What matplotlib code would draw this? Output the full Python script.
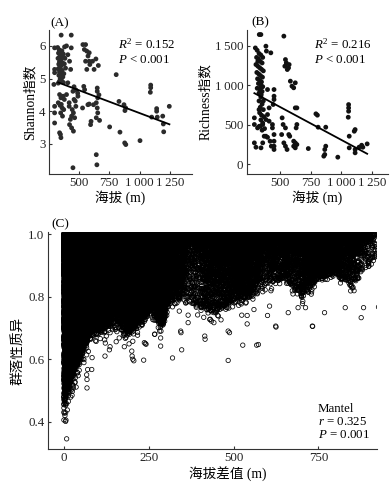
import numpy as np
import matplotlib
matplotlib.use('Agg')
import matplotlib.pyplot as plt

plt.rcParams['font.family'] = ['Liberation Serif', 'Noto Sans CJK SC']
plt.rcParams['mathtext.fontset'] = 'custom'
plt.rcParams['mathtext.rm'] = 'Liberation Serif'
plt.rcParams['mathtext.it'] = 'Liberation Serif:italic'
plt.rcParams['font.size'] = 9.3

# ---------------- Panel A: elevation vs Shannon ----------------
elev_a = [325, 338, 350, 332, 345, 360, 328, 352, 340, 366, 334, 356, 344, 330, 362, 340, 350, 335,
          368, 346, 356, 340, 372, 330, 380, 376, 385, 390, 360, 372,
          354, 437, 300, 382, 398, 437, 409, 423, 432, 300, 300, 294, 409, 341, 352, 370, 380, 398,
          451, 460, 492, 330, 355, 420, 470, 300, 300, 345, 362, 375, 420, 445, 440, 455, 430, 300,
          350, 365, 341, 348, 352, 423, 440, 455, 451, 533, 555, 545, 565, 575, 585, 555, 585, 612,
          625, 565, 590, 651, 651, 655, 643, 651, 655, 643, 547, 540, 574, 585, 530, 596, 600, 643,
          648, 460, 475, 490, 465, 475, 753, 807, 830, 838, 871, 879, 885, 877, 886, 1003, 1091,
          1091, 1088, 1099, 1140, 1140, 1145, 1190, 1195, 1198, 1244, 665, 670, 660, 640, 620]
shannon = [5.95, 5.88, 5.82, 5.78, 5.72, 5.68, 5.62, 5.58, 5.52, 5.48, 5.44, 5.40, 5.35, 5.30, 5.25,
           5.20, 5.15, 5.10, 5.05, 5.00, 4.95, 4.92, 4.88, 4.86, 5.45, 5.15, 5.62, 5.32, 5.85, 5.75,
           6.33, 6.33, 5.94, 5.97, 6.00, 5.94, 5.73, 5.53, 5.28, 5.28, 5.18, 4.82, 4.87, 4.51, 4.41,
           4.46, 4.36, 4.51, 4.61, 4.36, 4.46, 4.26, 4.21, 4.26, 4.31, 4.15, 3.95, 4.18, 4.10, 4.05,
           4.15, 4.05, 3.85, 3.95, 3.75, 3.64, 3.95, 3.85, 3.34, 3.29, 3.19, 3.59, 3.49, 3.39, 2.27,
           6.04, 6.04, 5.89, 5.84, 5.69, 5.79, 5.53, 5.53, 5.53, 5.28, 5.28, 5.43, 4.71, 4.61, 4.41,
           4.26, 4.10, 3.95, 3.80, 4.66, 4.76, 4.20, 4.22, 4.10, 3.59, 3.69, 2.67, 2.36, 4.75, 4.65,
           4.55, 3.80, 4.15, 3.52, 5.12, 4.30, 3.36, 4.20, 4.02, 4.10, 3.03, 2.98, 3.10, 4.80, 4.72,
           4.58, 3.82, 4.08, 4.00, 3.82, 3.85, 3.61, 3.37, 4.15, 4.50, 3.72, 5.40, 5.60, 4.20]
fit_a_x = [330, 1245]
fit_a_y = [4.88, 3.60]

# ---------------- Panel B: elevation vs Richness ----------------
elev_b = [300, 315, 330, 345, 310, 325, 340, 355, 305, 320, 335, 350, 365, 312, 328, 342, 358, 318,
          335, 350, 325, 345, 360, 315, 338, 355, 330, 348, 320, 360,
          345, 330, 355, 340, 365, 335, 350, 370, 345, 360, 340, 375, 355, 330, 365,
          332, 345, 386, 390, 426, 532, 545, 552, 540, 560, 570, 575, 585, 598, 612, 625, 638, 625,
          340, 399, 452, 452, 452, 445, 412, 399, 386, 412, 292, 292, 318, 332, 360, 439, 439, 452,
          452, 452, 452, 430, 420, 292, 305, 346, 360, 386, 399, 372, 518, 526, 545, 514, 572, 532,
          545, 558, 580, 612, 625, 638, 612, 625, 638, 632, 731, 793, 805, 811, 873, 873, 865, 857,
          865, 971, 1059, 1059, 1059, 1056, 1064, 1112, 1105, 1064, 1112, 1112, 1144, 1165, 1175, 1210]
richness = [1470, 1440, 1400, 1380, 1350, 1330, 1300, 1280, 1260, 1240, 1220, 1200, 1180, 1160, 1140,
            1120, 1100, 1080, 1060, 1040, 1020, 1000, 980, 960, 940, 920, 900, 880, 1300, 1350,
            850, 800, 760, 720, 690, 650, 620, 600, 560, 520, 480, 450, 430, 690, 800,
            1639, 1639, 1492, 1430, 1408, 1619, 1323, 1281, 1239, 1197, 1218, 1260, 1050, 987, 966,
            1029, 712, 712, 965, 944, 944, 860, 818, 755, 712, 628, 565, 544, 586, 502, 459, 480, 502,
            502, 459, 375, 291, 228, 186, 228, 291, 270, 215, 207, 270, 354, 340, 354, 586, 502, 459,
            375, 375, 270, 228, 186, 354, 291, 270, 249, 228, 207, 502, 459, 198, 637, 620, 468, 468,
            228, 186, 102, 123, 89, 754, 712, 670, 594, 354, 438, 417, 207, 144, 186, 215, 240, 215, 257]
fit_b_x = [292, 1210]
fit_b_y = [898, 132]

# ---------------- Panel C: pairwise elevation difference vs dissimilarity ----------------
# lower edge of the dense cloud
env_x = [0, 10, 25, 45, 60, 80, 120, 160, 190, 220, 260, 290, 310, 350, 400, 450, 500, 550,
         600, 650, 700, 750, 800, 850, 880, 930]
env_y = [0.46, 0.50, 0.55, 0.60, 0.64, 0.69, 0.70, 0.72, 0.68, 0.72, 0.76, 0.70, 0.79, 0.79,
         0.76, 0.75, 0.79, 0.80, 0.84, 0.86, 0.80, 0.86, 0.87, 0.83, 0.88, 0.93]
# sparse points below the cloud
out_x = [8, 13, 23, 31, 50, 68, 68, 67, 70, 82, 83, 95, 107, 121, 134, 136, 154, 163, 178, 193,
         200, 201, 203, 206, 235, 237, 240, 242, 267, 320, 347, 285, 268, 285, 344, 345, 340, 366,
         366, 415, 416, 484, 484, 488, 527, 568, 524, 540, 540, 560, 477, 430, 442, 282, 573, 624,
         732, 876, 927, 768, 829, 883, 690, 712, 661, 600, 606, 412, 435, 625, 733]
out_y = [0.345, 0.483, 0.549, 0.578, 0.60, 0.508, 0.535, 0.55, 0.567, 0.567, 0.605, 0.657, 0.666,
         0.61, 0.63, 0.64, 0.656, 0.668, 0.64, 0.68, 0.626, 0.61, 0.60, 0.595, 0.597, 0.653, 0.65,
         0.648, 0.68, 0.604, 0.63, 0.642, 0.68, 0.668, 0.69, 0.685, 0.754, 0.741, 0.717, 0.674, 0.664,
         0.596, 0.69, 0.685, 0.645, 0.645, 0.741, 0.713, 0.74, 0.759, 0.76, 0.727, 0.717, 0.69, 0.647,
         0.706, 0.706, 0.733, 0.767, 0.749, 0.765, 0.765, 0.765, 0.765, 0.749, 0.74, 0.77, 0.734,
         0.722, 0.703, 0.705]

TS = '\u2009'
a_xticks = [500, 750, 1000, 1250]
a_xticklabels = ['500', '750', '1' + TS + '000', '1' + TS + '250']
a_yticks = [3, 4, 5, 6]
b_xticks = [500, 750, 1000, 1250]
b_xticklabels = ['500', '750', '1' + TS + '000', '1' + TS + '250']
b_yticks = [0, 500, 1000, 1500]
b_yticklabels = ['0', '500', '1' + TS + '000', '1' + TS + '500']
c_xticks = [0, 250, 500, 750]
c_yticks = [0.4, 0.6, 0.8, 1.0]
c_yticklabels = ['0.4', '0.6', '0.8', '1.0']

fig = plt.figure(figsize=(3.9, 4.9), dpi=100)
axA = fig.add_axes([0.126, 0.645, 0.366, 0.294])
axB = fig.add_axes([0.633, 0.645, 0.362, 0.294])
axC = fig.add_axes([0.123, 0.084, 0.844, 0.443])

for ax in (axA, axB, axC):
    for s in ('top', 'right'):
        ax.spines[s].set_visible(False)
    for s in ('left', 'bottom'):
        ax.spines[s].set_linewidth(0.8)
        ax.spines[s].set_color('#333333')
    ax.tick_params(direction='in', length=2.5, width=0.8, color='#333333', labelsize=9.3,
                   labelcolor='#222222', pad=2.5)

# A
axA.scatter(elev_a, shannon, s=12, color='#2b2b2b', edgecolors='none', zorder=2)
axA.plot(fit_a_x, fit_a_y, color='black', lw=1.3, zorder=3)
axA.set_xlim(255, 1430)
axA.set_ylim(2.08, 6.49)
axA.set_xticks(a_xticks)
axA.set_xticklabels(a_xticklabels)
axA.set_yticks(a_yticks)
axA.set_xlabel('海拔 (m)', labelpad=1, fontsize=9.8)
axA.set_ylabel('Shannon指数', labelpad=2, fontsize=9.8)
axA.text(0.48, 0.899, r'$R^2$ = 0.152', transform=axA.transAxes, va='center', ha='left')
axA.text(0.48, 0.79, r'$P$ < 0.001', transform=axA.transAxes, va='center', ha='left')

# B
axB.scatter(elev_b, richness, s=12, color='#111111', edgecolors='none', zorder=2)
axB.plot(fit_b_x, fit_b_y, color='black', lw=1.3, zorder=3)
axB.set_xlim(231, 1380)
axB.set_ylim(-123, 1698)
axB.set_xticks(b_xticks)
axB.set_xticklabels(b_xticklabels)
axB.set_yticks(b_yticks)
axB.set_yticklabels(b_yticklabels)
axB.set_xlabel('海拔 (m)', labelpad=1, fontsize=9.8)
axB.set_ylabel('Richness指数', labelpad=2, fontsize=9.8)
axB.text(0.475, 0.899, r'$R^2$ = 0.216', transform=axB.transAxes, va='center', ha='left')
axB.text(0.475, 0.79, r'$P$ < 0.001', transform=axB.transAxes, va='center', ha='left')

# C: all pairs of sampled sites (elevations from panels A and B)
e = np.array(elev_a + elev_b, dtype=float)
ii, jj = np.triu_indices(len(e), k=1)
diff = np.abs(e[ii] - e[jj])
low = np.interp(diff, env_x, env_y)
k = np.arange(len(diff))
frac = (k * 0.6180339887) % 1.0
tail = ((k * 0.7548776662) % 1.0) ** 8
diss = 1.0 - (1.0 - low) * frac ** 2.2 * (1.0 + 0.18 * tail)
axC.scatter(diff, diss, s=10, facecolors='none', edgecolors='black', linewidths=0.55, zorder=2)
axC.scatter(out_x, out_y, s=10, facecolors='none', edgecolors='black', linewidths=0.55, zorder=2)
axC.set_xlim(-47, 923)
axC.set_ylim(0.313, 1.008)
axC.set_xticks(c_xticks)
axC.set_yticks(c_yticks)
axC.set_yticklabels(c_yticklabels)
axC.set_xlabel('海拔差值 (m)', fontsize=9.8)
axC.xaxis.set_label_coords(0.547, -0.085)
axC.set_ylabel('群落性质异', fontsize=9.8)
axC.yaxis.set_label_coords(-0.068, 0.45)
axC.text(0.82, 0.182, 'Mantel', transform=axC.transAxes, va='center', ha='left')
axC.text(0.82, 0.124, r'$r$ = 0.325', transform=axC.transAxes, va='center', ha='left')
axC.text(0.82, 0.065, r'$P$ = 0.001', transform=axC.transAxes, va='center', ha='left')

fig.text(0.154, 0.953, '(A)', ha='center', va='center', fontsize=9.5)
fig.text(0.667, 0.955, '(B)', ha='center', va='center', fontsize=9.5)
fig.text(0.154, 0.543, '(C)', ha='center', va='center', fontsize=9.5)

fig.savefig('out.png', dpi=100)
